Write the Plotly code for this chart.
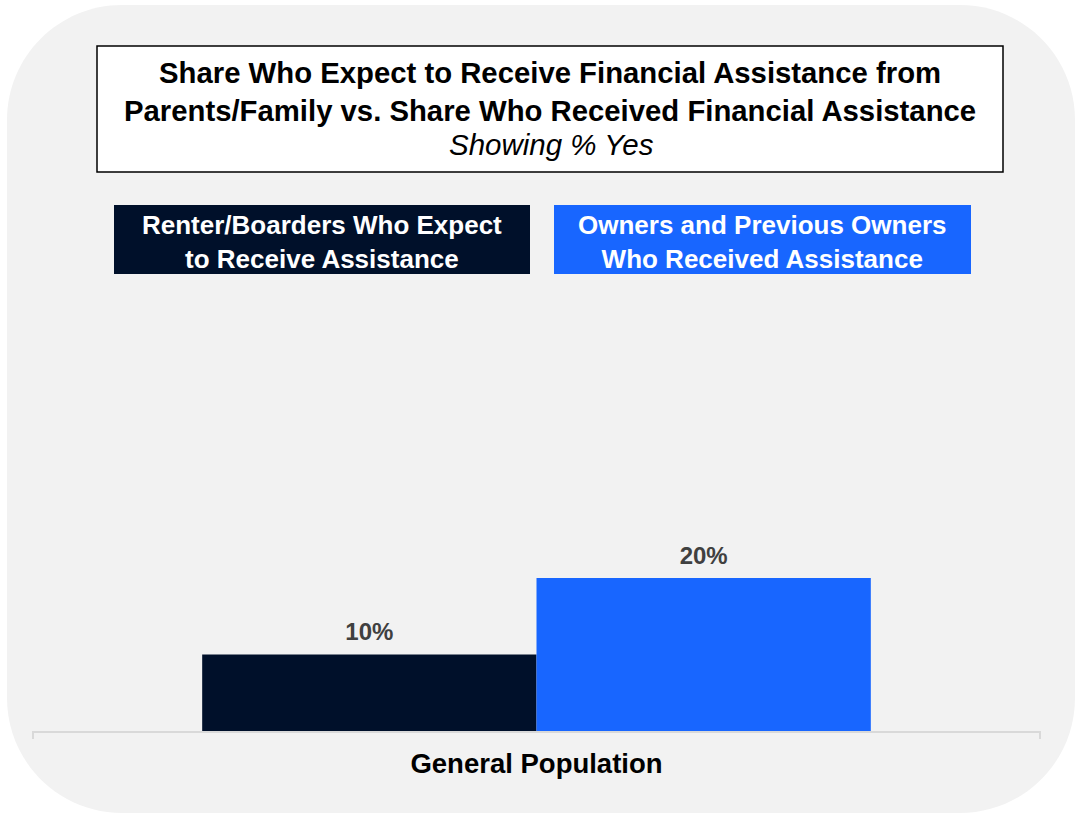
import plotly.graph_objects as go

# ---------------- data ----------------
categories = ["General Population"]
series_names = [
    "Renter/Boarders Who Expect<br>to Receive Assistance",
    "Owners and Previous Owners<br>Who Received Assistance",
]
renter_values = [10]
owner_values = [20]
title_lines = [
    "Share Who Expect to Receive Financial Assistance from",
    "Parents/Family vs. Share Who Received Financial Assistance",
]
subtitle = "Showing % Yes"

# ---------------- style ----------------
W, H = 1076, 815
NAVY = "#00102A"
BLUE = "#1866FF"
PANEL = "#F2F2F2"
FONT = "Liberation Sans, Arial, sans-serif"
GAP = 0.336


def fx(x):
    return x / W


def fy(y):
    return 1 - y / H


fig = go.Figure()
for vals, color, name, grp in ((renter_values, NAVY, series_names[0], "a"),
                               (owner_values, BLUE, series_names[1], "b")):
    fig.add_trace(go.Bar(
        x=categories, y=vals, name=name, offsetgroup=grp,
        marker=dict(color=color, line=dict(width=0)),
    ))
for vals, grp in ((renter_values, "a"), (owner_values, "b")):
    fig.add_trace(go.Scatter(
        x=categories, y=vals, offsetgroup=grp, mode="markers+text",
        text=[f"<b>{v}%</b>" for v in vals], textposition="top center",
        textfont=dict(color="#404040", size=24, family=FONT),
        marker=dict(size=12, color="rgba(0,0,0,0)"),
        cliponaxis=False, hoverinfo="skip",
    ))

# rounded panel background
x0, x1, y0, y1, r = 7, 1075, 5, 813, 115
k = 0.5523 * r
pts = [
    f"M {fx(x0 + r)},{fy(y0)}",
    f"L {fx(x1 - r)},{fy(y0)}",
    f"C {fx(x1 - r + k)},{fy(y0)} {fx(x1)},{fy(y0 + r - k)} {fx(x1)},{fy(y0 + r)}",
    f"L {fx(x1)},{fy(y1 - r)}",
    f"C {fx(x1)},{fy(y1 - r + k)} {fx(x1 - r + k)},{fy(y1)} {fx(x1 - r)},{fy(y1)}",
    f"L {fx(x0 + r)},{fy(y1)}",
    f"C {fx(x0 + r - k)},{fy(y1)} {fx(x0)},{fy(y1 - r + k)} {fx(x0)},{fy(y1 - r)}",
    f"L {fx(x0)},{fy(y0 + r)}",
    f"C {fx(x0)},{fy(y0 + r - k)} {fx(x0 + r - k)},{fy(y0)} {fx(x0 + r)},{fy(y0)}",
    "Z",
]
shapes = [dict(type="path", path=" ".join(pts), xref="paper", yref="paper",
               fillcolor=PANEL, line=dict(width=0), layer="below")]

# title box
shapes.append(dict(type="rect", xref="paper", yref="paper",
                   x0=fx(97), x1=fx(1003), y0=fy(172), y1=fy(46),
                   fillcolor="white", line=dict(color="black", width=1.5),
                   layer="below"))
# legend boxes
shapes.append(dict(type="rect", xref="paper", yref="paper",
                   x0=fx(114), x1=fx(530), y0=fy(274), y1=fy(205),
                   fillcolor=NAVY, line=dict(width=0), layer="below"))
shapes.append(dict(type="rect", xref="paper", yref="paper",
                   x0=fx(554), x1=fx(971), y0=fy(274), y1=fy(205),
                   fillcolor=BLUE, line=dict(width=0), layer="below"))
# axis end ticks
for xt in (33, 1040):
    shapes.append(dict(type="line", xref="paper", yref="paper",
                       x0=fx(xt), x1=fx(xt), y0=fy(731), y1=fy(739),
                       line=dict(color="#D9D9D9", width=2)))

annotations = [
    dict(text="<b>" + title_lines[0] + "<br>" + title_lines[1] + "</b>",
         xref="paper", yref="paper", x=fx(550), y=fy(91),
         xanchor="center", showarrow=False,
         font=dict(size=29.3, color="black", family=FONT),
         align="center", yanchor="middle"),
    dict(text="<i>" + subtitle + "</i>",
         xref="paper", yref="paper", x=fx(551), y=fy(145),
         xanchor="center", showarrow=False,
         font=dict(size=29.5, color="black", family=FONT),
         yanchor="middle"),
    dict(text="<b>" + series_names[0] + "</b>",
         xref="paper", yref="paper", x=fx(322), y=fy(241.5),
         xanchor="center", showarrow=False, align="center",
         font=dict(size=26, color="white", family=FONT),
         yanchor="middle"),
    dict(text="<b>" + series_names[1] + "</b>",
         xref="paper", yref="paper", x=fx(762), y=fy(241.5),
         xanchor="center", showarrow=False, align="center",
         font=dict(size=26, color="white", family=FONT),
         yanchor="middle"),
]

plot_top = 300
ymax = (731 - plot_top) / ((731 - 578) / owner_values[0])

fig.update_layout(
    width=W, height=H,
    margin=dict(l=0, r=0, t=0, b=0),
    paper_bgcolor="white", plot_bgcolor="rgba(0,0,0,0)",
    barmode="group", bargap=GAP, bargroupgap=0,
    scattermode="group", scattergap=GAP,
    showlegend=False,
    font=dict(family=FONT),
    shapes=shapes, annotations=annotations,
    xaxis=dict(domain=[fx(33), fx(1040)], showline=True, linecolor="#D9D9D9",
               linewidth=2, ticks="", showgrid=False, zeroline=False,
               tickfont=dict(size=27.5, color="black", family=FONT),
               tickprefix="<b>", ticksuffix="</b>", ticklabelstandoff=7),
    yaxis=dict(domain=[fy(731), fy(plot_top)], range=[0, ymax], visible=False,
               showgrid=False, zeroline=False),
)

fig.write_html("out.html", config={"displayModeBar": False},
               post_script="document.body.style.margin='0';document.body.style.overflow='hidden';")
